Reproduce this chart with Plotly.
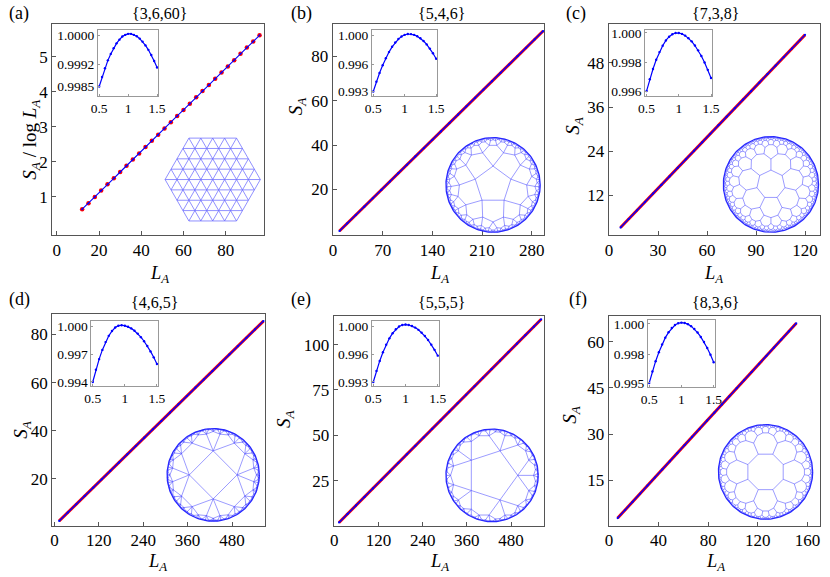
import math, cmath
from collections import deque
import plotly.graph_objects as go

W, H = 830, 577
FONT = "Liberation Serif, Times New Roman, DejaVu Serif, serif"

# ---------------- data ----------------
titles = ["{3,6,60}", "{5,4,6}", "{7,3,8}", "{4,6,5}", "{5,5,5}", "{8,3,6}"]
tags = ["(a)", "(b)", "(c)", "(d)", "(e)", "(f)"]

a_L = [12, 15, 18, 21, 24, 27, 30, 33, 36, 39, 42, 45, 48, 51, 54, 57, 60, 63, 66, 69, 72, 75, 78, 81, 84, 87, 90, 93, 96]
a_S = [0.65, 0.82, 1.00, 1.18, 1.36, 1.53, 1.71, 1.89, 2.07, 2.24, 2.42, 2.60, 2.77, 2.95, 3.13, 3.31, 3.48, 3.66, 3.84, 4.02, 4.19, 4.37, 4.55, 4.72, 4.90, 5.08, 5.26, 5.43, 5.61]

b_L = [9, 20, 32, 44, 56, 68, 80, 92, 104, 116, 128, 140, 152, 164, 176, 188, 200, 212, 224, 236, 248, 260, 272, 284, 296]
b_S = [1.20, 4.66, 8.44, 12.21, 15.99, 19.76, 23.54, 27.31, 31.09, 34.86, 38.64, 42.41, 46.19, 49.96, 53.74, 57.51, 61.29, 65.06, 68.84, 72.61, 76.39, 80.16, 83.94, 87.71, 91.49]

c_L = [7, 12, 17, 22, 27, 32, 37, 42, 47, 52, 57, 62, 67, 72, 77, 82, 87, 92, 97, 102, 107, 112, 117, 120]
c_S = [3.15, 5.48, 7.80, 10.12, 12.45, 14.77, 17.09, 19.42, 21.74, 24.06, 26.39, 28.71, 31.04, 33.36, 35.68, 38.01, 40.33, 42.65, 44.98, 47.30, 49.62, 51.95, 54.27, 55.66]

d_L = [13, 36, 59, 82, 105, 128, 151, 174, 197, 220, 243, 266, 289, 312, 335, 358, 381, 404, 427, 450, 473, 496, 519, 542, 565]
d_S = [2.60, 6.05, 9.51, 12.96, 16.42, 19.87, 23.32, 26.78, 30.23, 33.69, 37.14, 40.60, 44.05, 47.50, 50.96, 54.41, 57.87, 61.32, 64.77, 68.23, 71.68, 75.14, 78.59, 82.05, 85.50]

e_L = [13, 36, 59, 82, 105, 128, 151, 174, 197, 220, 243, 266, 289, 312, 335, 358, 381, 404, 427, 450, 473, 496, 519, 542, 562]
e_S = [1.94, 6.63, 11.33, 16.02, 20.72, 25.41, 30.11, 34.80, 39.50, 44.19, 48.89, 53.58, 58.28, 62.97, 67.67, 72.36, 77.06, 81.75, 86.45, 91.14, 95.84, 100.53, 105.23, 109.92, 114.00]

f_L = [7, 13, 19, 25, 31, 37, 43, 49, 55, 61, 67, 73, 79, 85, 91, 97, 103, 109, 115, 121, 127, 133, 139, 145, 151]
f_S = [2.76, 5.39, 8.03, 10.66, 13.30, 15.93, 18.57, 21.20, 23.84, 26.48, 29.11, 31.75, 34.39, 37.02, 39.66, 42.29, 44.93, 47.57, 50.20, 52.84, 55.47, 58.11, 60.75, 63.38, 66.02]

inset_x = [0.50, 0.55, 0.60, 0.65, 0.70, 0.75, 0.80, 0.85, 0.90, 0.95, 1.00,
           1.05, 1.10, 1.15, 1.20, 1.25, 1.30, 1.35, 1.40, 1.45, 1.50]
a_in = [0.99850, 0.99878, 0.99904, 0.99927, 0.99946, 0.99963, 0.99977, 0.99988, 0.99997, 1.00002, 1.00005,
        1.00005, 1.00002, 0.99998, 0.99991, 0.99982, 0.99971, 0.99958, 0.99943, 0.99925, 0.99906]
b_in = [0.99300, 0.99421, 0.99531, 0.99629, 0.99717, 0.99793, 0.99859, 0.99913, 0.99956, 0.99988, 1.00009,
        1.00019, 1.00018, 1.00009, 0.99992, 0.99966, 0.99931, 0.99889, 0.99837, 0.99778, 0.99710]
c_in = [0.99600, 0.99681, 0.99752, 0.99815, 0.99868, 0.99912, 0.99948, 0.99974, 0.99991, 0.99999, 0.99999,
        0.99993, 0.99981, 0.99964, 0.99942, 0.99913, 0.99880, 0.99841, 0.99796, 0.99746, 0.99690]
d_in = [0.99400, 0.99531, 0.99646, 0.99745, 0.99829, 0.99896, 0.99948, 0.99985, 1.00005, 1.00010, 1.00005,
        0.99994, 0.99976, 0.99951, 0.99920, 0.99882, 0.99838, 0.99787, 0.99729, 0.99665, 0.99594]
e_in = [0.99300, 0.99439, 0.99564, 0.99673, 0.99768, 0.99847, 0.99912, 0.99961, 0.99996, 1.00015, 1.00020,
        1.00015, 1.00002, 0.99982, 0.99954, 0.99919, 0.99876, 0.99826, 0.99768, 0.99703, 0.99630]
f_in = [0.99500, 0.99597, 0.99684, 0.99760, 0.99826, 0.99883, 0.99928, 0.99964, 0.99990, 1.00005, 1.00010,
        1.00007, 0.99997, 0.99980, 0.99956, 0.99926, 0.99889, 0.99846, 0.99796, 0.99739, 0.99675]

x_ticks = [[0, 20, 40, 60, 80], [0, 70, 140, 210, 280], [0, 30, 60, 90, 120],
           [0, 120, 240, 360, 480], [0, 120, 240, 360, 480], [0, 40, 80, 120, 160]]
y_ticks = [[1, 2, 3, 4, 5], [20, 40, 60, 80], [12, 24, 36, 48],
           [20, 40, 60, 80], [25, 50, 75, 100], [15, 30, 45, 60]]
inset_x_ticks = [0.5, 1, 1.5]
inset_x_text = ["0.5", "1", "1.5"]
inset_y_vals = [[0.9985, 0.99915, 1.0], [0.993, 0.99638, 1.0], [0.996, 0.99797, 1.0],
                [0.994, 0.997, 1.0], [0.993, 0.9965, 1.0], [0.995, 0.99744, 1.0]]
inset_y_text = [["0.9985", "0.9992", "1.0000"], ["0.993", "0.996", "1.000"], ["0.996", "0.998", "1.000"],
                ["0.994", "0.997", "1.000"], ["0.993", "0.996", "1.000"], ["0.995", "0.998", "1.000"]]
tilings = [None, (5, 4, math.pi / 2), (7, 3, math.pi / 2), (4, 6, math.pi / 2), (5, 5, 0.0), (8, 3, math.pi / 8)]

main_L = [a_L, b_L, c_L, d_L, e_L, f_L]
main_S = [a_S, b_S, c_S, d_S, e_S, f_S]
insets = [a_in, b_in, c_in, d_in, e_in, f_in]

# ---------------- layout geometry (pixels) ----------------
main_box = [(46, 261.7, 20, 234.7), (331.7, 547.3, 20, 234.7), (612.7, 828, 20, 234.7),
            (46, 262.7, 314, 529.3), (332.7, 547.3, 316, 529.3), (612.7, 828.3, 316, 529.3)]
main_xr = [[-2.2, 98.1], [-0.5, 297.8], [-0.3, 129.2], [-6, 569], [-1.6, 570.7], [-0.3, 170.4]]
main_yr = [[-0.10, 5.94], [-0.8, 94.8], [1.0, 58.7], [0.5, 88.6], [0, 116], [0.2, 68.5]]
inset_box = [(92.7, 154, 26, 93), (371.7, 438.3, 26, 93.5), (650, 718.3, 26, 93),
             (86, 154, 321, 387), (371.7, 440, 321.7, 387), (652.7, 721, 320, 388.3)]
inset_yr = [[0.99823, 1.000174], [0.99241, 1.00074], [0.995681, 1.000224],
            [0.993608, 1.000604], [0.992542, 1.000618], [0.994667, 1.000358]]
disk = [(209.5, 178, 48.5), (495, 183.5, 48), (778, 183, 48.5), (210, 477.5, 47), (494, 478, 47), (772.5, 474.5, 48)]
title_pos = [(155, 10), (442, 10), (722, 10), (150, 303), (442, 303), (722, 303)]
tag_pos = [(0, 10), (287, 10), (567, 10), (0, 300), (287, 300), (570, 300)]
xlab_pos = [(155, 274), (440, 274), (720, 274), (153, 566), (440, 566), (722, 566)]
ylab_pos = [(25, 137), (295, 103), (578, 123), (15, 431), (283, 420), (575, 416)]


def xd(l, r):
    return [l / W, r / W]


def yd(t, b):
    return [1 - b / H, 1 - t / H]


# ---------------- hyperbolic tiling (Poincare disk vertices, straight edges) ----------------
def reflect(z, a, b):
    tb = (b - a) / (1 - a.conjugate() * b)
    e = (tb / abs(tb)) ** 2
    w = (z - a) / (1 - a.conjugate() * z)
    w2 = e * w.conjugate()
    return (w2 + a) / (1 + a.conjugate() * w2)


def tiling_edges(p, q, phase, max_polys=3500, min_size=0.012):
    R = math.acosh(1 / math.tan(math.pi / p) / math.tan(math.pi / q))
    r = math.tanh(R / 2)
    v0 = [r * cmath.exp(1j * (phase + 2 * math.pi * k / p)) for k in range(p)]
    key = lambda c: (round(c.real, 5), round(c.imag, 5))
    seen = {key(0j)}
    queue = deque([(0j, v0)])
    edges = {}
    count = 0
    while queue and count < max_polys:
        c, vs = queue.popleft()
        count += 1
        for k in range(p):
            a, b = vs[k], vs[(k + 1) % p]
            ek = key((a + b) / 2)
            if ek not in edges:
                edges[ek] = (a, b)
            nc = reflect(c, a, b)
            kk = key(nc)
            if kk in seen:
                continue
            seen.add(kk)
            nvs = [reflect(v, a, b) for v in vs]
            if abs(nvs[0] - nc) < min_size or abs(nc) > 0.995:
                continue
            queue.append((nc, nvs))
    xs, ys = [], []
    for a, b in edges.values():
        xs += [round(a.real, 4), round(b.real, 4), None]
        ys += [round(a.imag, 4), round(b.imag, 4), None]
    return xs, ys


def tri_hex(n=4):
    pts = set()
    for i in range(-n, n + 1):
        for j in range(-n, n + 1):
            if abs(i + j) <= n:
                pts.add((i, j))
    xs, ys = [], []
    for (i, j) in pts:
        for di, dj in [(1, 0), (0, 1), (-1, 1)]:
            if (i + di, j + dj) in pts:
                for (u, v) in [(i, j), (i + di, j + dj)]:
                    xs.append(u + v / 2)
                    ys.append(v * math.sqrt(3) / 2)
                xs.append(None)
                ys.append(None)
    return xs, ys


fig = go.Figure()
layout = {}
ann = []


def ax(n):
    return ("xaxis" if n == 1 else f"xaxis{n}"), ("yaxis" if n == 1 else f"yaxis{n}")


def ref(n):
    return ("x" if n == 1 else f"x{n}"), ("y" if n == 1 else f"y{n}")


for i in range(6):
    nm, ni, nl = 3 * i + 1, 3 * i + 2, 3 * i + 3
    # main axes
    l, r, t, b = main_box[i]
    xa, ya = ax(nm)
    xr, yr = ref(nm)
    common = dict(showgrid=False, zeroline=False, showline=True, linecolor="#555", linewidth=1,
                  mirror=True, ticks="inside", ticklen=4, tickcolor="#555",
                  tickfont=dict(family=FONT, size=17, color="black"))
    layout[xa] = dict(domain=xd(l, r), range=main_xr[i], tickvals=x_ticks[i], anchor=yr,
                      ticklabelstandoff=-1, **common)
    layout[ya] = dict(domain=yd(t, b), range=main_yr[i], tickvals=y_ticks[i], anchor=xr, **common)
    if i == 0:
        fig.add_trace(go.Scatter(x=main_L[i], y=main_S[i], mode="markers", xaxis=xr, yaxis=yr,
                                 marker=dict(color="#ff0000", size=4.5, symbol="circle"), showlegend=False))
        fig.add_trace(go.Scatter(x=main_L[i], y=main_S[i], mode="lines+markers", xaxis=xr, yaxis=yr,
                                 line=dict(color="#0000ff", width=1.1), marker=dict(color="#0000ff", size=2),
                                 showlegend=False))
    else:
        fig.add_trace(go.Scatter(x=main_L[i], y=main_S[i], mode="lines", xaxis=xr, yaxis=yr,
                                 line=dict(color="#ff0000", width=3), showlegend=False))
        fig.add_trace(go.Scatter(x=main_L[i], y=main_S[i], mode="lines+markers", xaxis=xr, yaxis=yr,
                                 line=dict(color="#0000ff", width=1.4), marker=dict(color="#0000ff", size=2.2),
                                 showlegend=False))

    # inset axes
    l, r, t, b = inset_box[i]
    xa, ya = ax(ni)
    xr, yr = ref(ni)
    icommon = dict(showgrid=False, zeroline=False, showline=True, linecolor="#999", linewidth=1,
                   mirror=True, ticks="inside", ticklen=2, tickcolor="#999",
                   tickfont=dict(family=FONT, size=13.5, color="black"))
    layout[xa] = dict(domain=xd(l, r), range=[0.48, 1.52], tickvals=inset_x_ticks, ticktext=inset_x_text,
                      anchor=yr, ticklabelstandoff=0, **icommon)
    layout[ya] = dict(domain=yd(t, b), range=inset_yr[i], tickvals=inset_y_vals[i], ticktext=inset_y_text[i],
                      anchor=xr, **icommon)
    fig.add_trace(go.Scatter(x=inset_x, y=insets[i], mode="lines+markers", xaxis=xr, yaxis=yr,
                             line=dict(color="#0000ff", width=1.2), marker=dict(color="#0000ff", size=2.4),
                             showlegend=False))

    # lattice drawing
    cx, cy, rad = disk[i]
    xa, ya = ax(nl)
    xr, yr = ref(nl)
    if i == 0:
        s = rad / 4.0
        hw, hh = 4.1, 3.55
        layout[xa] = dict(domain=xd(cx - hw * s, cx + hw * s), range=[-hw, hw], visible=False, anchor=yr)
        layout[ya] = dict(domain=yd(cy - hh * s, cy + hh * s), range=[-hh, hh], visible=False, anchor=xr)
        lx, ly = tri_hex(4)
        fig.add_trace(go.Scatter(x=lx, y=ly, mode="lines", xaxis=xr, yaxis=yr, hoverinfo="skip",
                                 line=dict(color="rgba(100,100,255,0.8)", width=0.9), showlegend=False))
    else:
        e = 1.04
        layout[xa] = dict(domain=xd(cx - e * rad, cx + e * rad), range=[-e, e], visible=False, anchor=yr)
        layout[ya] = dict(domain=yd(cy - e * rad, cy + e * rad), range=[-e, e], visible=False, anchor=xr)
        p, q, ph = tilings[i]
        lx, ly = tiling_edges(p, q, ph)
        fig.add_trace(go.Scatter(x=lx, y=ly, mode="lines", xaxis=xr, yaxis=yr, hoverinfo="skip",
                                 line=dict(color="rgba(60,60,255,0.85)", width=0.6), showlegend=False))
        ang = [2 * math.pi * k / 200 for k in range(201)]
        fig.add_trace(go.Scatter(x=[math.cos(u) for u in ang], y=[math.sin(u) for u in ang], mode="lines",
                                 xaxis=xr, yaxis=yr, hoverinfo="skip",
                                 line=dict(color="rgb(40,40,255)", width=1.3), showlegend=False))

    # texts
    ann.append(dict(text=titles[i], x=title_pos[i][0] / W, y=1 - title_pos[i][1] / H, xref="paper", yref="paper",
                    xanchor="center", yanchor="middle", showarrow=False, font=dict(family=FONT, size=16, color="black")))
    ann.append(dict(text=tags[i], x=tag_pos[i][0] / W, y=1 - tag_pos[i][1] / H, xref="paper", yref="paper",
                    xanchor="left", yanchor="middle", showarrow=False, font=dict(family=FONT, size=18, color="black")))
    ann.append(dict(text="<i>L</i><sub><i>A</i></sub>", x=xlab_pos[i][0] / W, y=1 - xlab_pos[i][1] / H,
                    xref="paper", yref="paper", xanchor="center", yanchor="middle", showarrow=False,
                    font=dict(family=FONT, size=18.5, color="black")))
    ytxt = "<i>S</i><sub><i>A</i></sub> / log <i>L</i><sub><i>A</i></sub>" if i == 0 else "<i>S</i><sub><i>A</i></sub>"
    ann.append(dict(text=ytxt, x=ylab_pos[i][0] / W, y=1 - ylab_pos[i][1] / H, xref="paper", yref="paper",
                    xanchor="center", yanchor="middle", textangle=-90, showarrow=False,
                    font=dict(family=FONT, size=19, color="black")))

fig.update_layout(width=W, height=H, margin=dict(l=0, r=0, t=0, b=0), paper_bgcolor="white",
                  plot_bgcolor="rgba(0,0,0,0)", annotations=ann, showlegend=False,
                  font=dict(family=FONT), **layout)
fig.write_html("out.html", config={"displayModeBar": False, "staticPlot": True},
               post_script="document.body.style.margin='0';document.body.style.overflow='hidden';")
